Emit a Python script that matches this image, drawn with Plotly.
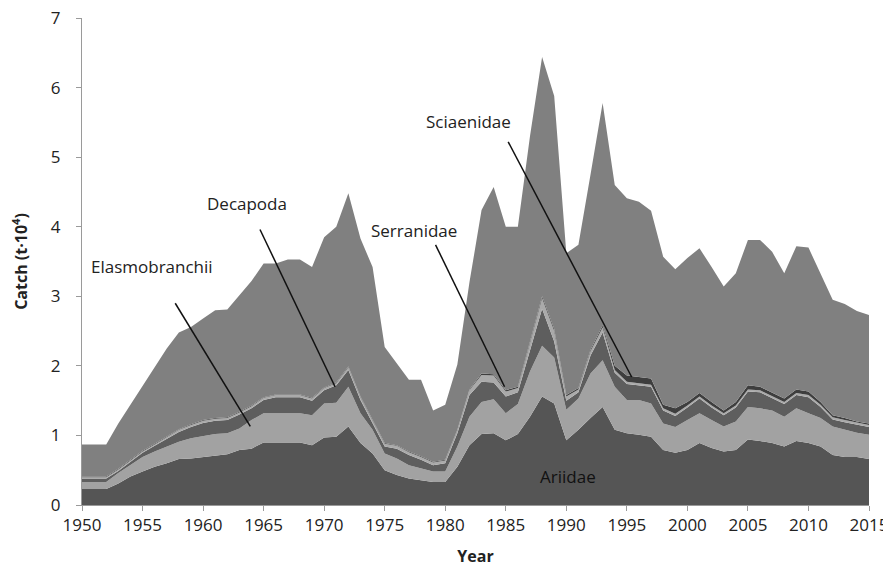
import plotly.graph_objects as go

# Stacked catch by family (t x 10^4), read as cumulative levels off the chart
years = list(range(1950, 2016))

ariidae_top = [
    0.23, 0.23, 0.23, 0.31, 0.41, 0.48, 0.55, 0.60, 0.66, 0.67,
    0.69, 0.72, 0.73, 0.79, 0.81, 0.90, 0.90, 0.90, 0.90, 0.86,
    0.97, 0.98, 1.13, 0.89, 0.74, 0.50, 0.43, 0.38, 0.36, 0.33,
    0.33, 0.55, 0.86, 1.02, 1.03, 0.93, 1.02, 1.27, 1.56, 1.46,
    0.93, 1.08, 1.25, 1.41, 1.08, 1.03, 1.01, 0.98, 0.79, 0.75,
    0.79, 0.89, 0.82, 0.77, 0.79, 0.94, 0.92, 0.89, 0.84, 0.92,
    0.89, 0.84, 0.72, 0.69, 0.69, 0.66,
]
elasmobranchii_top = [
    0.33, 0.33, 0.33, 0.46, 0.57, 0.69, 0.77, 0.84, 0.91, 0.96,
    0.99, 1.02, 1.03, 1.10, 1.22, 1.32, 1.32, 1.32, 1.32, 1.29,
    1.46, 1.47, 1.70, 1.32, 1.08, 0.74, 0.67, 0.57, 0.53, 0.48,
    0.48, 0.84, 1.27, 1.48, 1.52, 1.32, 1.45, 1.92, 2.29, 2.12,
    1.37, 1.53, 1.89, 2.08, 1.70, 1.51, 1.51, 1.46, 1.17, 1.12,
    1.22, 1.32, 1.22, 1.13, 1.20, 1.41, 1.39, 1.36, 1.27, 1.39,
    1.32, 1.25, 1.13, 1.08, 1.04, 1.01,
]
decapoda_top = [
    0.38, 0.38, 0.38, 0.49, 0.62, 0.75, 0.85, 0.95, 1.05, 1.12,
    1.18, 1.21, 1.22, 1.30, 1.39, 1.51, 1.55, 1.55, 1.55, 1.50,
    1.65, 1.72, 1.94, 1.51, 1.17, 0.84, 0.81, 0.72, 0.65, 0.57,
    0.60, 1.03, 1.58, 1.77, 1.76, 1.56, 1.62, 2.23, 2.82, 2.35,
    1.50, 1.62, 2.15, 2.48, 1.90, 1.74, 1.72, 1.70, 1.36, 1.28,
    1.40, 1.53, 1.40, 1.29, 1.40, 1.63, 1.62, 1.53, 1.45, 1.58,
    1.55, 1.41, 1.23, 1.19, 1.15, 1.12,
]
serranidae_top = [
    0.40, 0.40, 0.40, 0.51, 0.64, 0.77, 0.87, 0.97, 1.08, 1.15,
    1.21, 1.24, 1.25, 1.33, 1.42, 1.54, 1.58, 1.58, 1.58, 1.53,
    1.68, 1.75, 1.98, 1.55, 1.21, 0.88, 0.85, 0.76, 0.69, 0.61,
    0.64, 1.07, 1.65, 1.87, 1.86, 1.63, 1.68, 2.31, 2.97, 2.50,
    1.56, 1.66, 2.21, 2.55, 1.94, 1.77, 1.75, 1.73, 1.39, 1.31,
    1.43, 1.56, 1.43, 1.32, 1.43, 1.66, 1.65, 1.56, 1.48, 1.61,
    1.58, 1.44, 1.26, 1.22, 1.18, 1.15,
]
sciaenidae_top = [
    0.41, 0.41, 0.41, 0.52, 0.65, 0.78, 0.88, 0.98, 1.09, 1.16,
    1.22, 1.25, 1.26, 1.34, 1.43, 1.55, 1.59, 1.59, 1.59, 1.54,
    1.69, 1.76, 1.99, 1.56, 1.22, 0.89, 0.86, 0.77, 0.70, 0.62,
    0.65, 1.08, 1.66, 1.89, 1.88, 1.65, 1.70, 2.33, 3.00, 2.53,
    1.58, 1.68, 2.23, 2.58, 2.00, 1.86, 1.84, 1.82, 1.44, 1.39,
    1.48, 1.61, 1.48, 1.36, 1.48, 1.72, 1.70, 1.61, 1.53, 1.66,
    1.63, 1.48, 1.29, 1.25, 1.20, 1.17,
]
total_top = [
    0.87, 0.87, 0.87, 1.17, 1.44, 1.70, 1.97, 2.25, 2.48, 2.56,
    2.68, 2.80, 2.81, 3.02, 3.22, 3.47, 3.47, 3.53, 3.53, 3.42,
    3.85, 4.00, 4.48, 3.83, 3.42, 2.27, 2.04, 1.80, 1.80, 1.36,
    1.44, 2.02, 3.20, 4.24, 4.57, 4.00, 4.00, 5.30, 6.44, 5.88,
    3.62, 3.74, 4.75, 5.78, 4.60, 4.41, 4.36, 4.23, 3.57, 3.39,
    3.55, 3.69, 3.42, 3.14, 3.33, 3.81, 3.81, 3.64, 3.33, 3.72,
    3.70, 3.33, 2.95, 2.89, 2.79, 2.73,
]
y_ticks = [0, 1, 2, 3, 4, 5, 6, 7]
x_ticks = list(range(1950, 2016, 5))

layers = [
    ("Ariidae", ariidae_top, "#555555"),
    ("Elasmobranchii", elasmobranchii_top, "#a2a2a2"),
    ("Decapoda", decapoda_top, "#5e5e5e"),
    ("Serranidae", serranidae_top, "#aaaaaa"),
    ("Sciaenidae", sciaenidae_top, "#3e3e3e"),
    ("Others", total_top, "#808080"),
]

# label text position, pointer start, pointer end (data coords)
labels = [
    ("Elasmobranchii", 1955.8, 3.43, 1957.7, 2.90, 1963.9, 1.13),
    ("Decapoda", 1963.6, 4.34, 1964.7, 3.96, 1970.9, 1.70),
    ("Serranidae", 1977.4, 3.95, 1979.2, 3.74, 1984.9, 1.70),
    ("Sciaenidae", 1981.9, 5.51, 1985.2, 5.22, 1995.4, 1.84),
]

fig = go.Figure()
for i, (name, vals, color) in enumerate(layers):
    fig.add_trace(go.Scatter(
        x=years, y=vals, name=name, mode="lines",
        line=dict(width=0, color=color),
        fill="tozeroy" if i == 0 else "tonexty",
        fillcolor=color,
        hoverinfo="x+y+name",
    ))

font = "Open Sans, Lato, sans-serif"

for text, tx, ty, x0, y0, x1, y1 in labels:
    fig.add_annotation(x=tx, y=ty, text=text, showarrow=False,
                       font=dict(family=font, size=17, color="#222222"))
    fig.add_shape(type="line", x0=x0, y0=y0, x1=x1, y1=y1,
                  line=dict(color="#111111", width=1.5))

fig.add_annotation(x=1990.1, y=0.41, text="Ariidae", showarrow=False,
                   font=dict(family=font, size=17, color="#111111"))

# page body has an 8px margin, so keep the figure inside the window
fig.update_layout(
    width=883, height=559,
    margin=dict(l=74, r=22, t=10, b=62),
    paper_bgcolor="white", plot_bgcolor="white",
    showlegend=False,
    font=dict(family=font, size=17, color="#222222"),
)
fig.update_xaxes(
    range=[1950, 2015], tickvals=x_ticks,
    showgrid=False, zeroline=False, automargin=False,
    ticklabeloverflow="allow",
    showline=True, linecolor="#9a9a9a", linewidth=1,
    ticks="outside", ticklen=5, tickcolor="#9a9a9a",
    title=dict(text="<b>Year</b>", font=dict(size=16), standoff=28),
)
fig.update_yaxes(
    range=[0, 7], tickvals=y_ticks,
    ticklabelstandoff=12,
    showgrid=False, zeroline=False, automargin=False,
    ticklabeloverflow="allow",
    showline=True, linecolor="#9a9a9a", linewidth=1,
    ticks="outside", ticklen=5, tickcolor="#9a9a9a",
    title=dict(text="<b>Catch (t·10<sup>4</sup>)</b>", font=dict(size=16), standoff=20),
)

fig.write_html("out.html")
